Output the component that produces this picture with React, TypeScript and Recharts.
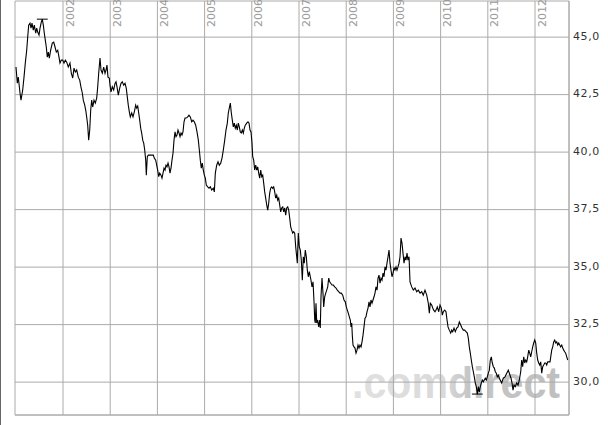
import React from 'react';
import { LineChart, Line, XAxis, YAxis, CartesianGrid, ReferenceLine } from 'recharts';

const dates = [
  2001.004,2001.032,2001.053,2001.089,2001.110,2001.146,2001.174,2001.201,2001.231,2001.252,
  2001.273,2001.301,2001.322,2001.343,2001.371,2001.392,2001.422,2001.443,2001.464,2001.492,
  2001.513,2001.540,2001.561,2001.583,2001.604,2001.625,2001.646,2001.667,2001.689,2001.710,
  2001.739,2001.773,2001.803,2001.831,2001.858,2001.888,2001.915,2001.936,2001.964,2001.994,
  2002.021,2002.049,2002.078,2002.112,2002.148,2002.176,2002.206,2002.233,2002.261,2002.290,
  2002.324,2002.354,2002.381,2002.409,2002.430,2002.460,2002.481,2002.502,2002.523,2002.544,
  2002.566,2002.587,2002.608,2002.629,2002.657,2002.684,2002.714,2002.735,2002.756,2002.784,
  2002.805,2002.833,2002.862,2002.890,2002.911,2002.932,2002.953,2002.981,
  2002.996,2003.017,2003.044,2003.074,2003.102,2003.123,2003.144,2003.172,2003.201,2003.229,
  2003.256,2003.286,2003.314,2003.341,2003.362,2003.383,2003.405,2003.426,2003.456,2003.483,
  2003.511,2003.540,2003.561,2003.583,2003.604,2003.625,2003.646,2003.667,2003.689,2003.710,
  2003.731,2003.752,2003.765,2003.786,2003.807,2003.843,2003.879,2003.913,2003.934,2003.964,
  2003.985,2004.006,2004.028,2004.049,2004.076,2004.097,2004.119,2004.140,2004.161,2004.182,
  2004.203,2004.225,2004.246,2004.267,2004.288,2004.309,2004.331,2004.352,2004.373,2004.394,
  2004.415,2004.436,2004.458,2004.479,2004.500,2004.521,2004.542,2004.564,2004.585,2004.612,
  2004.642,2004.669,2004.697,2004.727,2004.754,2004.782,2004.811,2004.839,2004.867,2004.888,
  2004.909,2004.930,2004.951,2004.972,2004.994,2005.015,2005.036,2005.066,2005.093,2005.121,
  2005.150,2005.184,2005.206,
  2005.227,2005.256,2005.284,2005.311,2005.341,2005.369,2005.396,2005.426,2005.453,2005.481,
  2005.502,2005.523,2005.545,2005.566,2005.587,2005.608,2005.629,2005.650,2005.672,2005.693,
  2005.714,2005.735,2005.756,2005.778,2005.799,2005.820,2005.841,2005.862,2005.892,2005.919,
  2005.941,2005.962,2005.983,2006.004,2006.019,2006.040,2006.061,2006.083,2006.104,2006.125,
  2006.146,2006.167,2006.189,2006.210,2006.231,2006.252,2006.273,2006.294,2006.316,2006.337,
  2006.358,2006.379,2006.400,2006.422,2006.443,2006.464,2006.485,2006.506,2006.528,2006.549,
  2006.570,2006.591,2006.612,2006.633,2006.655,2006.676,2006.697,2006.718,2006.739,2006.761,
  2006.782,2006.803,2006.824,2006.845,2006.866,2006.888,2006.909,2006.930,2006.951,2006.964,
  2006.985,2007.006,2007.028,2007.049,2007.070,2007.091,2007.112,2007.133,2007.155,2007.176,
  2007.197,2007.218,
  2007.254,2007.275,2007.297,2007.318,2007.333,2007.345,2007.360,2007.375,2007.396,2007.417,
  2007.439,2007.451,2007.466,2007.487,2007.508,2007.523,2007.544,2007.566,2007.587,2007.608,
  2007.629,2007.650,2007.672,2007.699,2007.727,2007.756,2007.784,2007.811,2007.841,2007.869,
  2007.896,2007.926,2007.953,2007.981,2008.002,2008.023,2008.044,2008.066,2008.087,2008.102,
  2008.117,2008.129,2008.144,2008.165,2008.186,2008.208,2008.229,2008.250,2008.271,2008.292,
  2008.314,2008.335,2008.356,2008.377,2008.398,2008.419,2008.441,2008.462,2008.483,2008.504,
  2008.525,2008.547,2008.568,2008.589,2008.610,2008.631,2008.653,2008.674,2008.695,2008.716,
  2008.737,2008.758,2008.780,2008.801,2008.822,2008.843,2008.864,2008.886,2008.907,2008.928,
  2008.949,2008.970,2008.992,2009.013,2009.034,2009.055,2009.076,2009.097,2009.119,2009.140,
  2009.161,2009.182,2009.203,2009.225,2009.246,2009.267,2009.288,2009.309,2009.331,2009.352,
  2009.388,2009.422,2009.458,2009.494,2009.528,2009.564,2009.600,2009.633,2009.669,2009.706,
  2009.739,2009.761,2009.782,2009.811,2009.833,2009.854,2009.881,2009.903,2009.930,2009.960,
  2009.987,2010.015,2010.036,2010.057,2010.087,2010.114,2010.136,2010.157,2010.184,2010.214,
  2010.235,2010.256,2010.284,2010.311,2010.341,2010.369,2010.396,2010.426,2010.453,2010.481,
  2010.511,2010.538,2010.566,2010.587,2010.608,2010.629,2010.650,2010.672,2010.693,2010.714,
  2010.735,2010.756,2010.778,2010.799,2010.820,2010.841,2010.862,2010.883,2010.905,2010.926,
  2010.947,2010.968,2010.989,2011.011,2011.032,2011.053,2011.074,2011.095,2011.117,2011.138,
  2011.159,2011.180,2011.201,2011.222,2011.244,
  2011.294,2011.328,2011.364,2011.401,2011.434,2011.470,2011.492,2011.513,2011.534,2011.555,
  2011.582,2011.612,2011.640,2011.667,2011.697,2011.718,2011.739,2011.761,2011.782,2011.803,
  2011.824,2011.845,2011.867,2011.888,2011.909,2011.930,2011.951,2011.972,2011.994,2012.015,
  2012.036,2012.057,2012.078,2012.100,2012.121,2012.142,2012.163,2012.184,2012.206,2012.227,
  2012.248,2012.269,2012.290,2012.318,2012.333,2012.354,2012.375,2012.396,2012.417,2012.439,
  2012.460,2012.481,2012.502,2012.523,2012.544,2012.566,2012.587,2012.608,2012.629,2012.650,
  2012.672,2012.693,
];

const prices = [
  43.70,43.00,43.26,42.57,42.26,42.70,43.26,43.87,44.43,45.00,
  45.52,45.61,45.39,45.61,45.30,45.52,45.17,45.39,45.22,45.09,
  45.39,45.65,45.78,45.52,45.17,44.87,44.57,44.13,44.35,44.09,
  44.43,44.74,44.78,44.57,44.35,44.43,44.13,43.87,44.00,44.00,
  43.87,44.00,43.91,43.70,43.87,43.43,43.22,43.65,43.48,43.57,
  43.26,43.13,42.83,42.57,42.26,42.04,41.83,41.52,41.17,40.52,
  40.96,41.83,42.26,41.96,42.26,42.13,42.35,42.83,43.43,44.09,
  43.57,43.43,43.70,43.43,43.57,43.78,43.26,43.22,
  42.91,42.62,42.84,42.70,42.99,43.06,42.84,42.48,42.78,42.99,
  43.06,42.91,42.99,42.77,42.40,42.04,41.75,41.53,41.70,41.53,
  41.75,42.04,41.91,42.00,41.70,41.39,41.04,40.83,40.52,40.39,
  40.09,39.65,39.00,39.80,39.87,39.87,39.87,39.87,39.74,39.65,
  39.43,39.22,38.93,39.09,39.00,38.87,39.09,39.30,39.22,39.43,
  39.36,39.52,39.36,39.09,39.30,39.65,39.96,40.52,40.88,40.67,
  40.74,40.96,40.83,40.67,40.83,40.74,40.88,41.32,41.48,41.48,
  41.53,41.61,41.53,41.32,41.39,41.32,41.17,40.88,40.52,40.09,
  39.65,39.30,39.52,39.22,39.00,38.87,38.57,38.49,38.43,38.49,
  38.35,38.43,38.27,
  39.09,39.43,39.58,39.43,39.52,39.74,40.09,40.52,40.96,41.26,
  41.70,41.91,42.13,41.70,41.39,41.10,41.26,41.04,41.17,40.96,
  41.26,41.10,40.88,40.83,40.96,40.83,41.04,41.17,41.26,41.32,
  41.26,40.96,40.88,40.39,39.80,39.65,39.22,39.43,39.22,39.36,
  39.09,38.87,39.22,38.93,39.00,38.65,38.27,38.00,37.70,37.48,
  37.78,38.22,38.43,38.49,38.43,38.49,38.27,38.00,38.13,37.91,
  38.00,37.70,37.40,37.57,37.62,37.40,37.57,37.26,37.57,37.62,
  37.48,37.13,36.75,36.61,36.48,36.54,36.48,35.88,35.45,35.17,
  36.48,35.88,35.74,35.30,34.43,35.45,35.17,35.74,35.45,34.87,
  34.58,34.80,
  34.43,34.14,34.36,33.49,32.70,32.57,33.43,32.57,32.70,32.40,
  32.70,32.35,33.71,34.52,33.87,33.27,33.71,33.87,34.00,34.14,
  34.52,34.36,34.30,34.22,34.22,34.14,34.09,34.00,33.93,33.87,
  33.87,33.78,33.57,33.49,33.27,33.13,33.00,32.84,32.70,32.40,
  32.57,32.04,31.61,31.53,31.48,31.26,31.39,31.61,31.48,31.61,
  31.53,31.75,32.04,32.40,32.78,32.84,33.06,33.22,33.49,33.27,
  33.57,33.43,33.57,33.71,33.87,34.14,34.00,34.52,34.65,34.30,
  34.52,34.43,34.74,34.58,35.01,34.87,35.17,35.45,35.74,35.17,
  34.87,34.58,34.74,34.96,34.87,35.01,34.87,35.01,35.17,35.45,
  36.26,36.04,35.61,35.17,35.45,35.30,35.61,35.30,35.45,34.36,
  34.14,34.00,34.09,33.93,34.00,33.87,33.93,33.78,34.00,33.78,
  33.43,33.00,33.43,33.35,33.22,33.13,33.06,33.13,33.27,33.06,
  33.35,33.22,32.91,33.06,33.13,33.06,32.70,32.40,32.26,32.13,
  32.26,32.19,32.35,32.19,32.35,32.40,32.62,32.48,32.35,32.26,
  32.26,32.19,32.13,31.91,31.53,31.26,30.96,30.67,30.45,30.23,
  29.96,29.80,29.48,29.80,29.57,29.80,29.96,30.09,30.01,30.09,
  30.17,30.09,30.23,30.39,30.52,30.96,31.10,30.83,30.67,30.61,
  30.45,30.39,30.23,30.30,30.17,
  29.96,30.17,30.23,30.39,30.52,30.30,30.17,29.96,29.65,29.87,
  29.80,29.96,29.87,30.09,30.45,30.96,30.67,31.10,30.83,30.96,
  30.88,31.10,31.39,31.26,31.10,31.32,31.53,31.70,31.83,31.70,
  31.26,30.96,30.83,30.74,30.88,30.39,30.67,30.74,30.83,30.83,
  30.74,30.88,30.88,30.88,31.10,31.39,31.53,31.75,31.83,31.70,
  31.75,31.61,31.70,31.61,31.53,31.61,31.48,31.39,31.32,31.26,
  31.10,30.96,
];

const yearTicks = [2002, 2003, 2004, 2005, 2006, 2007, 2008, 2009, 2010, 2011, 2012];
const priceTicks = [30, 32.5, 35, 37.5, 40, 42.5, 45];
const xDomain = [2000.983, 2012.72];
const yDomain = [28.57, 46.57];

const n = Math.min(dates.length, prices.length);
const data = dates.slice(0, n).map((t, i) => ({ t, v: prices[i] }));

let maxI = 0;
let minI = 0;
for (let i = 0; i < n; i++) {
  if (prices[i] > prices[maxI]) maxI = i;
  if (prices[i] < prices[minI]) minI = i;
}
const markHalf = 0.115;

const fmt = (v: number) => v.toFixed(1).replace('.', ',');

const YearTick = (props: any) => {
  const { x, payload } = props;
  return (
    <text
      transform={`translate(${x + 10.5},27) rotate(-90)`}
      fill="#9a9a9a"
      fontSize={11}
      fontFamily="DejaVu Sans"
      textAnchor="start"
    >
      {payload.value}
    </text>
  );
};

const PriceTick = (props: any) => {
  const { x, y, payload } = props;
  return (
    <text
      x={x}
      y={y}
      dy={2.5}
      fill="#333"
      fontSize={11}
      fontFamily="DejaVu Sans"
      letterSpacing={0.6}
      textAnchor="start"
    >
      {fmt(payload.value)}
    </text>
  );
};

export default function App() {
  return (
    <div style={{ position: 'absolute', left: 0, top: 0, width: 608, height: 425, background: '#fff', overflow: 'hidden' }}>
      <svg width={608} height={425} style={{ position: 'absolute', left: 0, top: 0 }}>
        <defs>
          <linearGradient id="wm" gradientUnits="userSpaceOnUse" x1={352} y1={0} x2={560} y2={0}>
            <stop offset="0" stopColor="#e1e1e1" />
            <stop offset="0.44" stopColor="#dadada" />
            <stop offset="0.56" stopColor="#c6c6c6" />
            <stop offset="1" stopColor="#bfbfbf" />
          </linearGradient>
        </defs>
        <text
          x={352}
          y={398}
          fontSize={44}
          fontWeight="bold"
          fontFamily="Liberation Sans, Arial, sans-serif"
          fill="url(#wm)"
          textLength={208}
          lengthAdjust="spacingAndGlyphs"
        >
          .comdirect
        </text>
      </svg>
      <div style={{ position: 'absolute', left: 0, top: 0 }}>
        <LineChart width={608} height={425} data={data} margin={{ top: 0, right: 0, bottom: 10, left: 15 }}>
          <CartesianGrid stroke="#aaa" strokeWidth={1} />
          <XAxis
            dataKey="t"
            type="number"
            orientation="top"
            domain={xDomain}
            allowDataOverflow
            ticks={yearTicks}
            height={1}
            axisLine={false}
            tickLine={false}
            tick={YearTick}
            interval={0}
          />
          <YAxis
            orientation="right"
            type="number"
            domain={yDomain}
            allowDataOverflow
            ticks={priceTicks}
            width={39}
            axisLine={{ stroke: '#aaa' }}
            tickLine={false}
            tickSize={0}
            tickMargin={4}
            tick={PriceTick}
            interval={0}
          />
          <ReferenceLine y={yDomain[0]} stroke="#aaa" ifOverflow="visible" />
          <Line
            dataKey="v"
            type="linear"
            stroke="#000"
            strokeWidth={1.1}
            dot={false}
            isAnimationActive={false}
          />
          <ReferenceLine
            segment={[
              { x: dates[maxI] - markHalf, y: prices[maxI] },
              { x: dates[maxI] + markHalf, y: prices[maxI] },
            ]}
            stroke="#000"
            ifOverflow="visible"
          />
          <ReferenceLine
            segment={[
              { x: dates[minI] - markHalf, y: prices[minI] },
              { x: dates[minI] + markHalf, y: prices[minI] },
            ]}
            stroke="#000"
            ifOverflow="visible"
          />
        </LineChart>
      </div>
      <div style={{ position: 'absolute', left: 0, top: 0, width: 1, height: 425, background: '#666' }} />
    </div>
  );
}
